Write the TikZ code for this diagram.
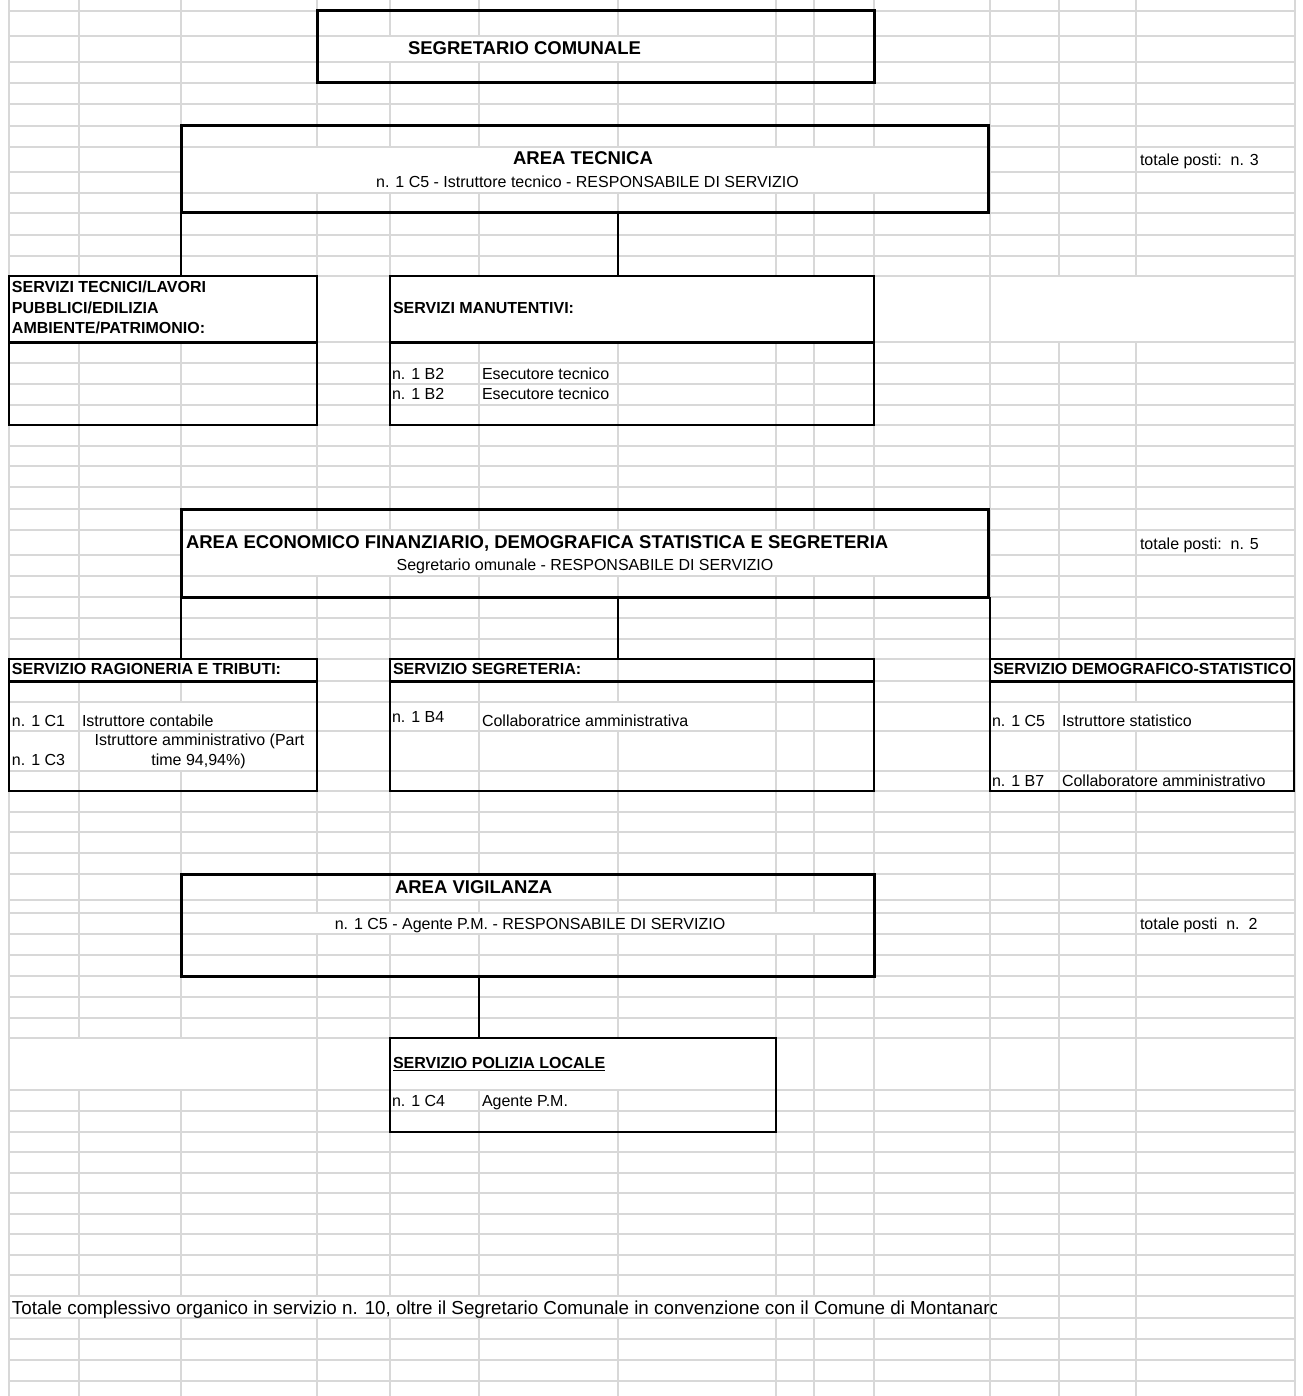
\documentclass[tikz,border=0pt]{standalone}
\usepackage{fontspec}
\setmainfont{Liberation Sans}
\definecolor{gridc}{RGB}{216,216,216}
\newcommand\gridmask[4]{\fill[white] ({#1+0.9},{#2+0.8}) rectangle ({#3-0.9},{#4-0.8});}
\tikzset{
  gridline/.style={draw=gridc, line width=1.2pt},
  areabox/.style={draw=black, line width=3pt, rectangle, inner sep=0pt, outer sep=0pt},
  subbox/.style={draw=black, line width=2pt, rectangle, inner sep=0pt, outer sep=0pt},
  sepline/.style={draw=black, line width=3pt},
  link/.style={draw=black, line width=2pt},
  txt/.style={inner sep=0pt, outer sep=0pt, anchor=base west, font=\fontsize{16}{19}\selectfont},
  txtc/.style={inner sep=0pt, outer sep=0pt, anchor=base, font=\fontsize{16}{19}\selectfont},
  subhead/.style={txt, font=\fontsize{16}{19}\selectfont\bfseries},
  areahead/.style={txt, font=\fontsize{18.5}{22}\selectfont\bfseries},
  areaheadc/.style={txtc, font=\fontsize{18.5}{22}\selectfont\bfseries},
  foottxt/.style={txt, font=\fontsize{18.8}{22}\selectfont},
}
\begin{document}
\begin{tikzpicture}[x=1pt,y=-1pt]
\useasboundingbox (0,0) rectangle (1302,1396);
\fill[white] (0,0) rectangle (1302,1396);
% spreadsheet grid
\foreach \yy in {11,36,62,83,104,126,147,172,193,213,235,256,276,342,363,384,405,425,446,466,487,509,530,555,576,597,618,639,659,681,702,731,771,791,812,832,853,874,900,913,934,955,976,997,1018,1038,1090,1111,1132,1152,1173,1193,1214,1234,1255,1275,1296,1318,1339,1360,1381}
  \draw[gridline] (9,\yy) -- (1296,\yy);
\foreach \xx in {9,79,181,317,390,479,618,776,814,874,990,1059,1136,1295}
  \draw[gridline] (\xx,0) -- (\xx,1396);
% merged cells / overflowing text hide the grid
\gridmask{317}{36}{776}{62}
\gridmask{181}{147}{989}{193}
\gridmask{9}{276}{317}{342}
\gridmask{390}{276}{874}{342}
\gridmask{990}{276}{1295}{342}
\gridmask{181}{530}{989}{576}
\gridmask{9}{659}{317}{681}
\gridmask{390}{659}{618}{681}
\gridmask{990}{659}{1295}{681}
\gridmask{79}{702}{317}{731}
\gridmask{79}{731}{317}{771}
\gridmask{479}{702}{776}{731}
\gridmask{1059}{702}{1295}{731}
\gridmask{1059}{771}{1295}{791}
\gridmask{390}{874}{618}{900}
\gridmask{181}{913}{874}{934}
\gridmask{9}{1038}{317}{1090}
\gridmask{390}{1038}{776}{1090}
\gridmask{9}{1296}{990}{1318}

% boxes
\node[areabox, minimum width=557pt, minimum height=72pt] (segr) at (595.5,47) {};
\node[areabox, minimum width=807pt, minimum height=87pt] (tec) at (584.5,169.5) {};
\node[subbox, minimum width=308pt, minimum height=149pt] (stec) at (163,350.5) {};
\node[subbox, minimum width=484pt, minimum height=149pt] (sman) at (632,350.5) {};
\node[areabox, minimum width=807pt, minimum height=88pt] (eco) at (584.5,553) {};
\node[subbox, minimum width=308pt, minimum height=132pt] (srag) at (163,725) {};
\node[subbox, minimum width=484pt, minimum height=132pt] (sseg) at (632,725) {};
\node[subbox, minimum width=304pt, minimum height=132pt] (sdem) at (1142,725) {};
\node[areabox, minimum width=693pt, minimum height=102pt] (vig) at (527.5,925) {};
\node[subbox, minimum width=386pt, minimum height=94pt] (spol) at (583,1085) {};

% header separators
\draw[sepline] (stec.west |- 0,342) -- (stec.east |- 0,342);
\draw[sepline] (sman.west |- 0,342) -- (sman.east |- 0,342);
\draw[sepline] (srag.west |- 0,681) -- (srag.east |- 0,681);
\draw[sepline] (sseg.west |- 0,681) -- (sseg.east |- 0,681);
\draw[sepline] (sdem.west |- 0,681) -- (sdem.east |- 0,681);

% connectors
\draw[link] (tec.south west) -- (tec.south west |- stec.north);
\draw[link] (tec.south -| 618,0) -- (sman.north -| 618,0);
\draw[link] (eco.south west) -- (eco.south west |- srag.north);
\draw[link] (eco.south -| 618,0) -- (sseg.north -| 618,0);
\draw[link] (eco.south -| 990,0) -- (sdem.north west);
\draw[link] (vig.south -| 479,0) -- (spol.north -| 479,0);

% texts
\node[areahead] (tsegr) at (408,55) {SEGRETARIO COMUNALE};
\node[areaheadc] (ttec) at (583,165) {AREA TECNICA};
\node[txtc] (ttec2) at (587.5,188) {n. 1 C5 - Istruttore tecnico - RESPONSABILE DI SERVIZIO};
\node[txt] (tot3) at (1140,166) {totale posti:\ \ n. 3};

\node[subhead] (tstec1) at (12,293) {SERVIZI TECNICI/LAVORI};
\node[subhead] (tstec2) at (12,313) {PUBBLICI/EDILIZIA};
\node[subhead] (tstec3) at (12,334) {AMBIENTE/PATRIMONIO:};
\node[subhead] (tsman) at (393,313) {SERVIZI MANUTENTIVI:};
\node[txt] (m1a) at (392,379) {n. 1 B2};
\node[txt] (m1b) at (482,379) {Esecutore tecnico};
\node[txt] (m2a) at (392,399) {n. 1 B2};
\node[txt] (m2b) at (482,399) {Esecutore tecnico};

\node[areahead] (teco) at (186,548) {AREA ECONOMICO FINANZIARIO, DEMOGRAFICA STATISTICA E SEGRETERIA};
\node[txtc] (teco2) at (585,570) {Segretario omunale - RESPONSABILE DI SERVIZIO};
\node[txt] (tot5) at (1140,549) {totale posti:\ \ n. 5};

\node[subhead] (trag) at (12,674) {SERVIZIO RAGIONERIA E TRIBUTI:};
\node[txt] (r1a) at (12,726) {n. 1 C1};
\node[txt] (r1b) at (82,726) {Istruttore contabile};
\node[txtc] (r2b) at (199.5,745) {Istruttore amministrativo (Part};
\node[txtc] (r2c) at (198.5,765) {time 94,94\%)};
\node[txt] (r2a) at (12,765) {n. 1 C3};

\node[subhead] (tseg) at (393,674) {SERVIZIO SEGRETERIA:};
\node[txt] (s1a) at (392,722) {n. 1 B4};
\node[txt] (s1b) at (482,726) {Collaboratrice amministrativa};

\begin{scope}
\clip (990,650) rectangle (1294.5,800);
\node[subhead] (tdem) at (993,674) {SERVIZIO DEMOGRAFICO-STATISTICO};
\end{scope}
\node[txt] (d1a) at (992,726) {n. 1 C5};
\node[txt] (d1b) at (1062,726) {Istruttore statistico};
\node[txt] (d2a) at (992,786) {n. 1 B7};
\node[txt] (d2b) at (1062,786) {Collaboratore amministrativo};

\node[areahead] (tvig) at (395,893) {AREA VIGILANZA};
\node[txtc] (tvig2) at (530,929) {n. 1 C5 - Agente P.M. - RESPONSABILE DI SERVIZIO};
\node[txt] (tot2) at (1140,929) {totale posti\ \ n.\ \ 2};

\node[subhead] (tpol) at (393,1068) {SERVIZIO POLIZIA LOCALE};
\draw[line width=1.3pt] ([yshift=-2.2pt]tpol.base west) -- ([yshift=-2.2pt]tpol.base east);
\node[txt] (p1a) at (392,1106) {n. 1 C4};
\node[txt] (p1b) at (482,1106) {Agente P.M.};

\begin{scope}
\clip (0,1290) rectangle (996,1325);
\node[foottxt] (foot) at (12,1314) {Totale complessivo organico in servizio n. 10, oltre il Segretario Comunale in convenzione con il Comune di Montanaro};
\end{scope}
\end{tikzpicture}
\end{document}
